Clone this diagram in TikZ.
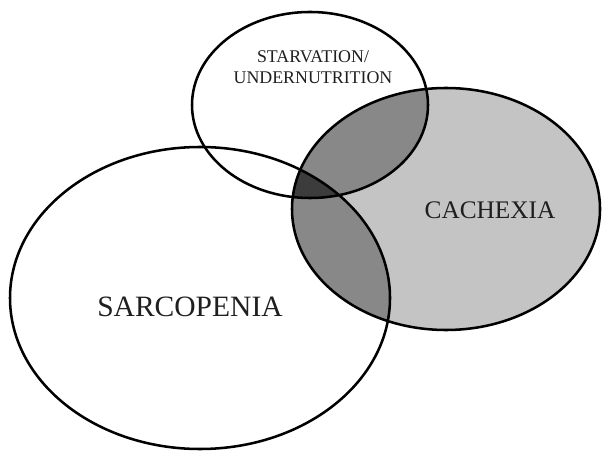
\documentclass[tikz,border=0pt]{standalone}
\usepackage{fontspec}
\setmainfont{Liberation Serif}
\usepackage{tikz}

\definecolor{lightgrey}{HTML}{C4C4C4}
\definecolor{midgrey}{HTML}{888888}
\definecolor{darkgrey}{HTML}{3C3C3C}

\def\sarcopath{(200,-298) ellipse [x radius=190, y radius=151]}
\def\starvpath{(310,-105) ellipse [x radius=118, y radius=93]}
\def\cachexpath{(446,-209) ellipse [x radius=154, y radius=121]}

\begin{document}
\begin{tikzpicture}[
    x=0.025cm, y=0.025cm,
    outline/.style={draw=black, line width=1.8pt},
    label/.style={align=center, inner sep=0pt, text=black!88}
]
\useasboundingbox (0,0) rectangle (602,-451);
% shaded areas
\fill[lightgrey] \cachexpath;
\begin{scope}
    \clip \cachexpath;
    \fill[midgrey] \starvpath;
    \fill[midgrey] \sarcopath;
    \clip \starvpath;
    \fill[darkgrey] \sarcopath;
\end{scope}
% outlines
\draw[outline] \sarcopath;
\draw[outline] \starvpath;
\draw[outline] \cachexpath;
% labels
\node[label, font=\fontsize{12.7}{15}\selectfont] (starvation) at (313,-67) {STARVATION/\\UNDERNUTRITION};
\node[label, font=\fontsize{18}{20}\selectfont] (cachexia) at (490,-210) {CACHEXIA};
\node[label, font=\fontsize{21}{24}\selectfont] (sarcopenia) at (190,-307) {SARCOPENIA};
\end{tikzpicture}
\end{document}
